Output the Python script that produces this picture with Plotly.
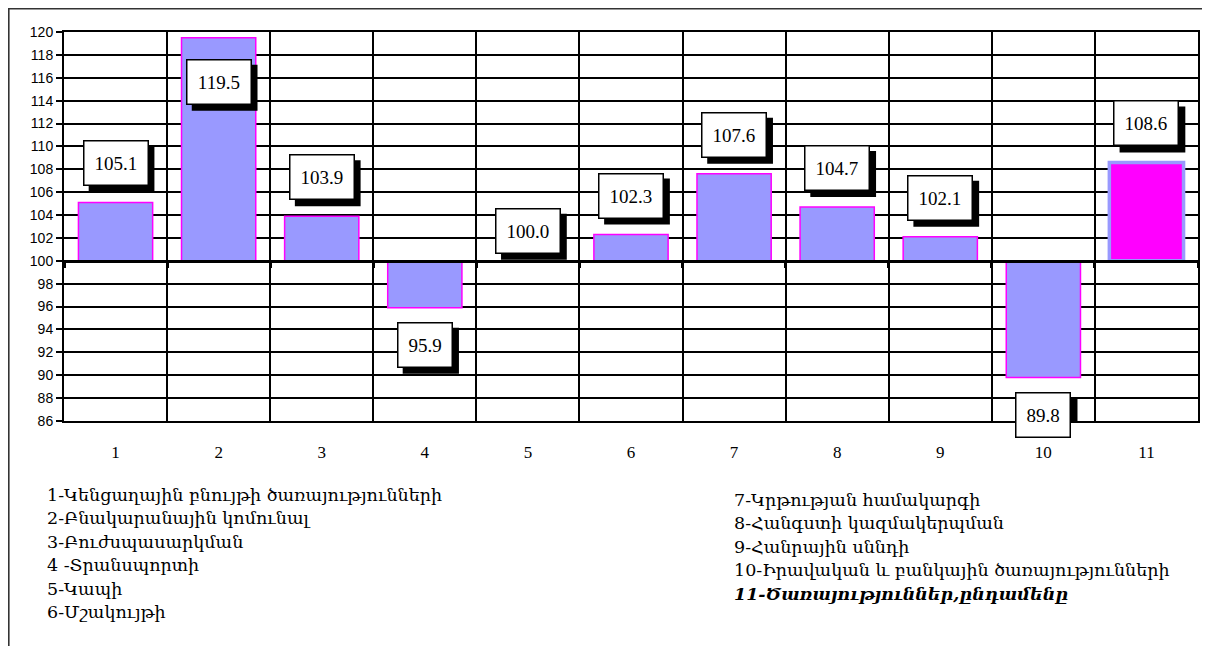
import plotly.graph_objects as go

categories = [1, 2, 3, 4, 5, 6, 7, 8, 9, 10, 11]
values = [105.1, 119.5, 103.9, 95.9, 100.0, 102.3, 107.6, 104.7, 102.1, 89.8, 108.6]
tick_labels = [str(c) for c in categories]
legend_left = [
    "1-Կենցաղային բնույթի ծառայությունների",
    "2-Բնակարանային կոմունալ",
    "3-Բուժսպասարկման",
    "4 -Տրանսպորտի",
    "5-Կապի",
    "6-Մշակույթի",
]
legend_right = [
    "7-Կրթության համակարգի",
    "8-Հանգստի կազմակերպման",
    "9-Հանրային սննդի",
    "10-Իրավական և բանկային ծառայությունների",
    "<b><i>11-Ծառայություններ,ընդամենը</i></b>",
]

BASE = 100
YMIN, YMAX = 86, 120
OFF = 8  # page body margin
W, H = 1210 - OFF, 646 - OFF
L, R, T, B = 64 - OFF, 10, 32 - OFF, 225
PH = H - T - B
PW = W - L - R
px_per_unit = PH / (YMAX - YMIN)

def py(p):  # page pixel -> paper y
    return (H - B - (p - OFF)) / PH

def px(p):  # page pixel -> paper x
    return (p - OFF - L) / PW

n = len(categories)
fill = ["#9999FF"] * (n - 1) + ["#FF00FF"]
edge = ["#FF00FF"] * (n - 1) + ["#9999FF"]
edge_w = [1.5] * (n - 1) + [3.5]

fig = go.Figure()
fig.add_trace(go.Bar(
    x=categories, y=[v - BASE for v in values], base=BASE, width=0.72,
    marker=dict(color=fill, line=dict(color=edge, width=edge_w)),
    hoverinfo="skip", showlegend=False,
))
fig.add_trace(go.Scatter(x=[categories[0]], y=[BASE], xaxis="x2", mode="markers",
                         marker=dict(opacity=0), showlegend=False, hoverinfo="skip"))

FS = 19
PAD = 9
SH = 6
lab_font = dict(family="Liberation Serif", size=FS, color="black")
for c, v in zip(categories, values):
    if v > BASE:
        room = (YMAX - v) * px_per_unit
        ys = 39 if room > 45 else -44
    elif v < BASE:
        ys = -37
    else:
        ys = 30
    txt = f"{v:.1f}"
    tw = sum(0.25 * FS if ch == "." else 0.5 * FS for ch in txt) + 2
    th = 25
    bw = tw / 2 + PAD + 1.5
    bh = th / 2 + PAD + 1.5
    fig.add_shape(type="rect", xref="x", yref="y", xsizemode="pixel", ysizemode="pixel",
                  xanchor=c, yanchor=v,
                  x0=-bw + SH, x1=bw + SH, y0=ys - bh - SH, y1=ys + bh - SH,
                  fillcolor="black", line=dict(width=0), layer="above")
    fig.add_annotation(x=c, y=v, text=txt, showarrow=False, yshift=ys,
                       width=tw, height=th,
                       font=lab_font, bgcolor="white", bordercolor="black",
                       borderwidth=1.5, borderpad=PAD)

leg_font = dict(family="DejaVu Serif", size=17.5, color="black")
for i, t in enumerate(legend_left):
    fig.add_annotation(xref="paper", yref="paper", x=px(45), y=py(495 + i * 23.4),
                       text=t, showarrow=False, xanchor="left", yanchor="middle", font=leg_font)
for i, t in enumerate(legend_right):
    fig.add_annotation(xref="paper", yref="paper", x=px(733), y=py(500 + i * 23.4),
                       text=t, showarrow=False, xanchor="left", yanchor="middle", font=leg_font)

fig.add_shape(type="line", xref="paper", yref="paper", x0=px(8), x1=px(1212), y0=py(8.5), y1=py(8.5),
              line=dict(color="#333333", width=2))
fig.add_shape(type="line", xref="paper", yref="paper", x0=px(8.5), x1=px(8.5), y0=py(8), y1=py(660),
              line=dict(color="#333333", width=2))

fig.update_layout(
    width=W, height=H,
    margin=dict(l=L, r=R, t=T, b=B),
    plot_bgcolor="white", paper_bgcolor="white",
    xaxis=dict(range=[0.5, n + 0.5], tickvals=categories, ticktext=tick_labels,
               showgrid=False, zeroline=False, showline=True, linecolor="black", linewidth=2,
               mirror=True, ticks="", ticklabelstandoff=15,
               tickfont=dict(family="Liberation Serif", size=17, color="black"),
               minor=dict(tick0=0.5, dtick=1, showgrid=True, gridcolor="black", gridwidth=1.5)),
    xaxis2=dict(range=[0.5, n + 0.5], overlaying="x", anchor="free",
                position=(BASE - YMIN) / (YMAX - YMIN), side="bottom",
                showline=True, linecolor="black", linewidth=3, showgrid=False, zeroline=False,
                tickvals=[c - 0.5 for c in categories] + [n + 0.5], ticks="outside",
                ticklen=5, tickwidth=3, tickcolor="black", showticklabels=False),
    yaxis=dict(range=[YMIN, YMAX], dtick=2, tick0=YMIN, showgrid=True, gridcolor="black",
               gridwidth=1.5, zeroline=False, showline=True, linecolor="black", linewidth=2,
               mirror=True, ticks="outside", ticklen=6, tickcolor="black", tickwidth=1.5,
               tickfont=dict(family="Liberation Sans", size=14, color="black")),
)

fig.write_html("out.html")
